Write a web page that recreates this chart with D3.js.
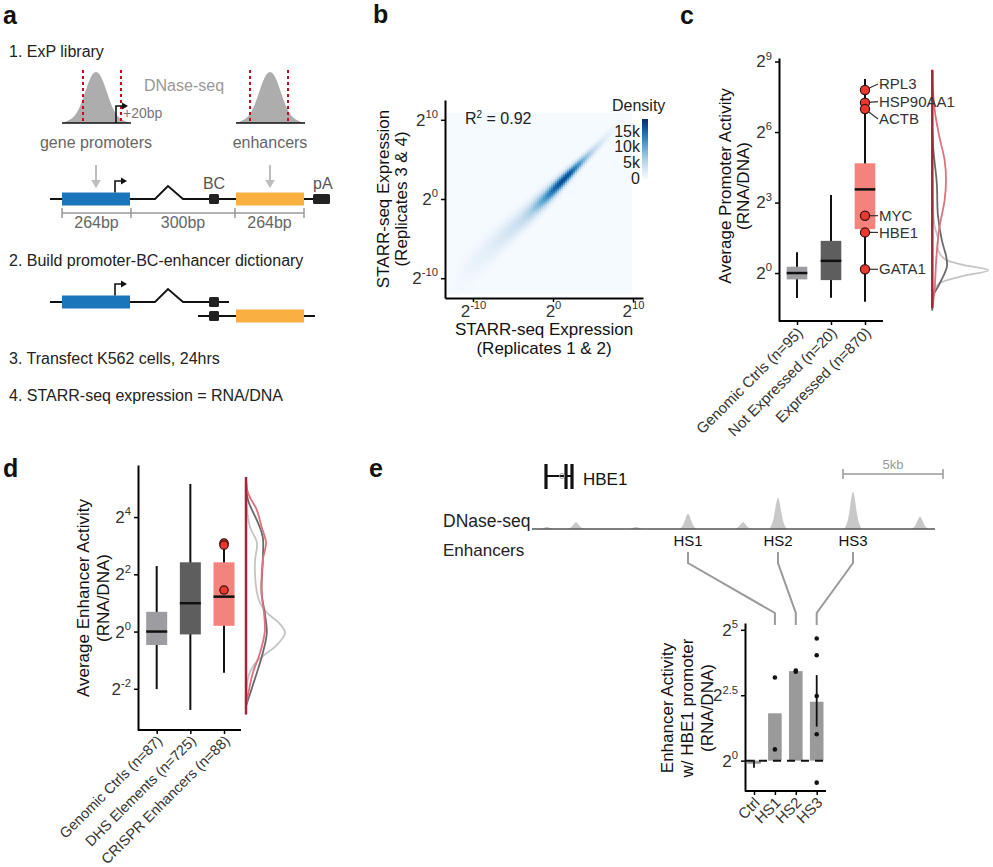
<!DOCTYPE html>
<html><head><meta charset="utf-8">
<script src="https://cdn.jsdelivr.net/npm/d3@7"></script>
<style>body{margin:0;background:#fff} svg{display:block} text{font-family:"Liberation Sans",Arial,Helvetica,sans-serif}</style>
</head><body><svg id="fig" width="993" height="867"></svg>
<script>
// ================= DATA =================
// Panel a (schematic)
const stepTexts = ["1. ExP library","2. Build promoter-BC-enhancer dictionary","3. Transfect K562 cells, 24hrs","4. STARR-seq expression = RNA/DNA"];
const peakProfile = [0,0.04,0.1,0.25,0.55,0.88,1,0.88,0.55,0.25,0.1,0.04,0];
const segLabels = ["264bp","300bp","264bp"];

// Panel b (density of replicate correlation)
const bTicks = [-10, 0, 10];
const ridgeX = [-13,-10,-8,-6,-4,-3,-2,-1,0,1,2,3,4,5,6,7,8,9,10];
const ridgeY = [-11.2,-8.2,-6.3,-4.5,-2.7,-1.8,-0.8,0.1,1.1,2.1,3.1,4.1,5.1,6.1,7.1,8.1,9.1,10.1,11.1];
const ridgeDensity = [0,1200,2000,3000,4500,6000,8500,11500,15000,17500,17000,13000,8500,5200,3000,1600,700,200,0];
const ridgeWidth = [1.6,1.5,1.35,1.2,1.0,0.92,0.85,0.78,0.7,0.62,0.55,0.5,0.47,0.45,0.45,0.45,0.45,0.45,0.45];
const densityLegendTicks = [0,5000,10000,15000];
const densityLegendLabels = ["0","5k","10k","15k"];
const rSquared = "0.92";

// Panel c
const cCats = ["Genomic Ctrls (n=95)","Not Expressed (n=20)","Expressed (n=870)"];
const cMin = [-1.06,-1.05,-1.22];
const cQ1  = [-0.27,-0.30,1.87];
const cMed = [0.0,0.52,3.56];
const cQ3  = [0.27,1.37,4.67];
const cMax = [0.89,3.32,8.26];
const cTicks = [0,3,6,9];
const cGenes = ["RPL3","HSP90AA1","ACTB","MYC","HBE1","GATA1"];
const cGeneVals = [7.79,7.25,6.98,2.44,1.73,0.16];
const cDensCtrlV = [-1.5,-0.85,-0.45,-0.15,0.12,0.35,0.6,1.0,1.5,2.0,3.0,4.0];
const cDensCtrlD = [0,0.01,0.12,0.5,1.0,0.55,0.22,0.1,0.1,0.04,0.01,0];
const cDensNotV = [-1.6,-1.0,-0.5,0.26,0.68,1.4,2.47,3.83,5.2,6.1];
const cDensNotD = [0,0.01,0.12,0.26,0.25,0.17,0.1,0.08,0.02,0];
const cDensExpV = [-1.5,-0.72,0.55,1.83,3.1,3.96,4.8,5.87,6.8,7.8,8.6];
const cDensExpD = [0,0.04,0.07,0.12,0.22,0.245,0.22,0.12,0.05,0.01,0];

// Panel d
const dCats = ["Genomic Ctrls (n=87)","DHS Elements (n=725)","CRISPR Enhancers (n=88)"];
const dMin = [-2.01,-2.74,-1.44];
const dQ1  = [-0.47,-0.10,0.20];
const dMed = [0.0,0.99,1.22];
const dQ3  = [0.69,2.42,2.42];
const dMax = [2.29,5.16,2.92];
const dTicks = [-2,0,2,4];
const dHighlightVals = [3.09,3.02,1.45];
const dDensCtrlV = [-2.6,-1.5,-1.0,-0.5,-0.05,0.3,0.65,1.0,1.35,2.0,2.5,3.1,3.65,4.25,5.0];
const dDensCtrlD = [0,0.075,0.3,0.75,0.975,0.825,0.525,0.35,0.275,0.225,0.225,0.275,0.1,0.025,0];
const dDensDhsV = [-2.6,-1.45,-0.75,-0.05,0.64,1.35,2.5,3.3,3.8,4.6,5.3];
const dDensDhsD = [0,0.27,0.42,0.52,0.47,0.39,0.42,0.42,0.3,0.05,0];
const dDensCrV = [-2.6,-1.45,-0.75,0,0.65,1.35,2.5,3.1,3.65,4.25,4.85,5.4];
const dDensCrD = [0,0.17,0.35,0.47,0.45,0.39,0.42,0.5,0.39,0.27,0.05,0];

// Panel e
const dnaseKb = [0.45,1.9,4.9,7.5,10.25,12.0,15.75,19.1];
const dnaseSignal = [2,7,2,16,7,33,39,13];
const enhancerNames = ["HS1","HS2","HS3"];
const enhancerKb = [7.5,12.0,15.75];
const geneExonKb = [0.4,1.4,1.7];
const eCats = ["Ctrl","HS1","HS2","HS3"];
const eMeans = [-0.12,1.81,3.42,2.25];
const eErrLow = [-0.27,null,null,1.30];
const eErrHigh = [0.03,null,null,3.27];
const ePoints = [[],[3.18,0.43],[3.40,3.44],[4.67,4.03,2.47,1.01,-0.84]];
const eTicks = [0,2.5,5];

// ================= DRAW =================
const FONT = '"Liberation Sans", Arial, Helvetica, sans-serif';
const svg = d3.select("#fig");
const TXT = "#333";

function letter(t,x,y){svg.append("text").attr("x",x).attr("y",y).attr("font-size",25).attr("font-weight","bold").attr("fill","#111").text(t);}
letter("a",3,24); letter("b",373,23); letter("c",680,24); letter("d",3,477); letter("e",369,477);

function styleAxis(g){
  g.attr("font-family",FONT);
  g.select(".domain").attr("stroke","#000").attr("stroke-width",2);
  g.selectAll(".tick line").attr("stroke","#000").attr("stroke-width",1.5);
  g.selectAll(".tick text").attr("fill",TXT);
}
function pow2(g,fs,fmt){
  g.selectAll(".tick text").each(function(d){
    const t=d3.select(this); t.text(null).attr("font-size",fs);
    t.append("tspan").text("2");
    t.append("tspan").attr("dy",-fs*0.45).attr("font-size",fs*0.66).text(fmt?fmt(d):String(d));
  });
}
function rotTitle(lines,xs,cy,fs){
  lines.forEach((l,i)=>svg.append("text").attr("transform",`translate(${xs[i]},${cy}) rotate(-90)`)
    .attr("text-anchor","middle").attr("font-size",fs).attr("fill","#111").text(l));
}
function arrowHead(g,x,y,dir,size,color){
  const s=size;
  let pts;
  if(dir==="right") pts=[[x,y-s*0.6],[x+s,y],[x,y+s*0.6]];
  else pts=[[x-s*0.6,y],[x+s*0.6,y],[x,y+s]];
  g.append("polygon").attr("points",pts.map(p=>p.join(",")).join(" ")).attr("fill",color);
}

// ---------- Panel a ----------
const ga = svg.append("g");
const stepY=[57,266,364,401];
stepTexts.forEach((t,i)=>ga.append("text").attr("x",9).attr("y",stepY[i]).attr("font-size",16).attr("fill","#222").text(t));
const peakCenters=[96,270];
peakCenters.forEach((c,k)=>{
  const px=d3.scaleLinear().domain([0,peakProfile.length-1]).range([c-34,c+34]);
  const py=d3.scaleLinear().domain([0,1]).range([123,70]);
  ga.append("path").datum(peakProfile).attr("d",d3.area().x((d,i)=>px(i)).y0(123).y1(d=>py(d)).curve(d3.curveBasis)).attr("fill","#adadad");
  ga.append("line").attr("x1",c-34).attr("x2",c+35).attr("y1",123).attr("y2",123).attr("stroke","#111").attr("stroke-width",1.5);
  const dash = k===0?[c-13,c+25]:[c-20,c+18];
  dash.forEach(x=>ga.append("line").attr("x1",x).attr("x2",x).attr("y1",70).attr("y2",123).attr("stroke","#d0021b").attr("stroke-width",2).attr("stroke-dasharray","3,3"));
  ga.append("line").attr("x1",c).attr("x2",c).attr("y1",165).attr("y2",181).attr("stroke","#bdbdbd").attr("stroke-width",2);
  arrowHead(ga,c,180,"down",8,"#bdbdbd");
});
// +20bp arrow
ga.append("path").attr("d","M116,123V106H123").attr("fill","none").attr("stroke","#111").attr("stroke-width",1.6);
arrowHead(ga,122,106,"right",6,"#111");
ga.append("text").attr("x",123).attr("y",118).attr("font-size",14).attr("fill","#777").text("+20bp");
ga.append("text").attr("x",144).attr("y",91).attr("font-size",16).attr("fill","#999").text("DNase-seq");
ga.append("text").attr("x",96).attr("y",148).attr("text-anchor","middle").attr("font-size",16).attr("fill","#666").text("gene promoters");
ga.append("text").attr("x",270).attr("y",148).attr("text-anchor","middle").attr("font-size",16).attr("fill","#666").text("enhancers");

function construct(y,full){
  const caret = `M50,${y}H155L168,${y-13}L183,${y}H${full?313:229}`;
  ga.append("path").attr("d",caret).attr("fill","none").attr("stroke","#111").attr("stroke-width",1.8);
  ga.append("rect").attr("x",62).attr("y",y-6.5).attr("width",68).attr("height",13).attr("fill","#1b75bb");
  ga.append("path").attr("d",`M115,${y-6.5}V${y-18}H122`).attr("fill","none").attr("stroke","#111").attr("stroke-width",1.6);
  arrowHead(ga,121,y-18,"right",6,"#111");
  ga.append("rect").attr("x",209).attr("y",y-5).attr("width",10).attr("height",10).attr("rx",1.5).attr("fill","#222");
}
construct(199,true);
ga.append("rect").attr("x",236).attr("y",192.5).attr("width",68).attr("height",13).attr("fill","#f9b040");
ga.append("rect").attr("x",313).attr("y",194).attr("width",17).attr("height",10).attr("rx",1.5).attr("fill","#222");
ga.append("text").attr("x",214).attr("y",189).attr("text-anchor","middle").attr("font-size",16).attr("fill","#555").text("BC");
ga.append("text").attr("x",313).attr("y",189).attr("font-size",16).attr("fill","#555").text("pA");
// dimension line
const dimX=[62,131,235,304];
ga.append("line").attr("x1",62).attr("x2",304).attr("y1",213).attr("y2",213).attr("stroke","#999").attr("stroke-width",1.5);
dimX.forEach(x=>ga.append("line").attr("x1",x).attr("x2",x).attr("y1",208).attr("y2",218).attr("stroke","#999").attr("stroke-width",1.5));
segLabels.forEach((t,i)=>ga.append("text").attr("x",(dimX[i]+dimX[i+1])/2).attr("y",228).attr("text-anchor","middle").attr("font-size",16).attr("fill","#666").text(t));
// construct 2
construct(302,false);
ga.append("line").attr("x1",198).attr("x2",315).attr("y1",316).attr("y2",316).attr("stroke","#111").attr("stroke-width",1.8);
ga.append("rect").attr("x",209).attr("y",311).attr("width",10).attr("height",10).attr("rx",1.5).attr("fill","#222");
ga.append("rect").attr("x",236).attr("y",309.5).attr("width",68).attr("height",13).attr("fill","#f9b040");

// ---------- Panel b ----------
const gb = svg.append("g");
const bx = d3.scaleLinear().domain([-13.5,11.25]).range([445,643]);
const by = d3.scaleLinear().domain([-12.5,12.5]).range([298,100]);
const dColor = d3.scaleSequential(d3.interpolateBlues).domain([0,19000]);
const rY = d3.scaleLinear().domain(ridgeX).range(ridgeY).clamp(true);
const rD = d3.scaleLinear().domain(ridgeX).range(ridgeDensity).clamp(true);
const rW = d3.scaleLinear().domain(ridgeX).range(ridgeWidth).clamp(true);
const rx0=bx(-13.25), rx1=bx(9.9), ry0=by(10.9), ry1=by(-12);
gb.append("rect").attr("x",rx0).attr("y",ry0).attr("width",rx1-rx0).attr("height",ry1-ry0).attr("fill",dColor(150));
const cells=[];
const step=2;
for(let px=rx0; px<rx1; px+=step){
  for(let py=ry0; py<ry1; py+=step){
    const u=bx.invert(px+step/2), v=by.invert(py+step/2);
    const w=rW(u), dd=v-rY(u);
    const dens=rD(u)*Math.exp(-dd*dd/(2*w*w));
    if(dens>200) cells.push({u,v,dens});
  }
}
gb.selectAll("rect.cell").data(cells).join("rect").attr("class","cell")
  .attr("x",d=>bx(d.u)-step/2).attr("y",d=>by(d.v)-step/2).attr("width",step+0.3).attr("height",step+0.3)
  .attr("fill",d=>dColor(d.dens));
const bxAxis = gb.append("g").attr("transform","translate(0,298)")
  .call(d3.axisBottom(bx).tickValues(bTicks).tickSize(4).tickSizeOuter(0).tickPadding(3));
styleAxis(bxAxis); pow2(bxAxis,17);
const byAxis = gb.append("g").attr("transform","translate(445,0)")
  .call(d3.axisLeft(by).tickValues(bTicks).tickSize(4).tickSizeOuter(0).tickPadding(3));
styleAxis(byAxis); pow2(byAxis,17);
const r2 = gb.append("text").attr("x",465).attr("y",124).attr("font-size",16).attr("fill","#222");
r2.append("tspan").text("R");
r2.append("tspan").attr("dy",-6).attr("font-size",10).text("2");
r2.append("tspan").attr("dy",6).text(" = "+rSquared);
rotTitle(["STARR-seq Expression","(Replicates 3 & 4)"],[389,407],199,17);
gb.append("text").attr("x",544).attr("y",335).attr("text-anchor","middle").attr("font-size",17).attr("fill","#111").text("STARR-seq Expression");
gb.append("text").attr("x",544).attr("y",354).attr("text-anchor","middle").attr("font-size",17).attr("fill","#111").text("(Replicates 1 & 2)");
// legend
gb.append("text").attr("x",612).attr("y",111).attr("font-size",16).attr("fill","#222").text("Density");
const legY = d3.scaleLinear().domain([0,19000]).range([179,119]);
const grad = svg.append("defs").append("linearGradient").attr("id","dgrad").attr("x1",0).attr("x2",0).attr("y1",1).attr("y2",0);
d3.range(0,1.01,0.1).forEach(t=>grad.append("stop").attr("offset",t).attr("stop-color",dColor(t*19000)));
gb.append("rect").attr("x",642).attr("y",119).attr("width",6).attr("height",60).attr("fill","url(#dgrad)");
densityLegendTicks.forEach((v,i)=>gb.append("text").attr("x",640).attr("y",legY(v)+5).attr("text-anchor","end").attr("font-size",16).attr("fill","#222").text(densityLegendLabels[i]));

// ---------- Box plot helper ----------
function boxPanel(opt){
  const g=svg.append("g");
  const x=d3.scalePoint().domain(opt.cats).range(opt.xr);
  const y=d3.scaleLinear().domain(opt.yd).range(opt.yr);
  opt.cats.forEach((c,i)=>{
    const cx=x(c), bw=opt.bw;
    g.append("line").attr("x1",cx).attr("x2",cx).attr("y1",y(opt.min[i])).attr("y2",y(opt.max[i])).attr("stroke","#111").attr("stroke-width",2);
    g.append("rect").attr("x",cx-bw/2).attr("y",y(opt.q3[i])).attr("width",bw).attr("height",y(opt.q1[i])-y(opt.q3[i])).attr("fill",opt.colors[i]);
    g.append("line").attr("x1",cx-bw/2).attr("x2",cx+bw/2).attr("y1",y(opt.med[i])).attr("y2",y(opt.med[i])).attr("stroke","#111").attr("stroke-width",2.5);
  });
  const xa=g.append("g").attr("transform",`translate(0,${opt.yr[0]})`)
    .call(d3.axisBottom(x).tickSize(4).tickSizeOuter(0).tickFormat(""));
  xa.select(".domain").attr("d",`M${opt.xr0},0H${opt.xr1}`);
  styleAxis(xa);
  opt.cats.forEach(c=>g.append("text").attr("transform",`translate(${x(c)+3},${opt.yr[0]+opt.lblDy}) rotate(-45)`)
     .attr("text-anchor","end").attr("dy","0.35em").attr("font-size",opt.lblFs).attr("fill",TXT).text(c));
  const ya=g.append("g").attr("transform",`translate(${opt.xr0},0)`)
    .call(d3.axisLeft(y).tickValues(opt.ticks).tickSize(4).tickSizeOuter(0).tickPadding(3));
  styleAxis(ya); pow2(ya,17);
  // density
  const dx=d3.scaleLinear().domain([0,1]).range([opt.densX,opt.densX+opt.densW]);
  opt.dens.forEach(dd=>{
    const pts=dd.v.map((v,i)=>[dd.d[i],v]);
    g.append("path").datum(pts).attr("d",d3.line().x(p=>dx(p[0])).y(p=>y(p[1])).curve(d3.curveCatmullRom))
      .attr("fill","none").attr("stroke",dd.color).attr("stroke-width",1.8);
  });
  g.append("line").attr("x1",opt.densX).attr("x2",opt.densX).attr("y1",y(opt.densRange[0])).attr("y2",y(opt.densRange[1])).attr("stroke","#a3253a").attr("stroke-width",2.5);
  return {g,x,y};
}
const COLS=["#9d9da1","#5e5e5e","#f4837d"];

// ---------- Panel c ----------
const pc = boxPanel({cats:cCats,xr:[797,865],xr0:779,xr1:883,yd:[-2.04,9.15],yr:[321,58],bw:20.6,
  min:cMin,q1:cQ1,med:cMed,q3:cQ3,max:cMax,ticks:cTicks,colors:COLS,lblFs:15,lblDy:9,
  densX:932.3,densW:56,densRange:[-1.5,8.65],
  dens:[{v:cDensCtrlV,d:cDensCtrlD,color:"#c4c4c4"},{v:cDensNotV,d:cDensNotD,color:"#6a6a6a"},{v:cDensExpV,d:cDensExpD,color:"#e0707e"}]});
const cLabelNudge=[-6,-1,10,0,0,0];
cGenes.forEach((gname,i)=>{
  const px=pc.x(cCats[2]), py=pc.y(cGeneVals[i]);
  const ly=py+cLabelNudge[i];
  pc.g.append("line").attr("x1",px).attr("x2",878).attr("y1",py).attr("y2",ly).attr("stroke","#333").attr("stroke-width",1.2);
  pc.g.append("circle").attr("cx",px).attr("cy",py).attr("r",4.6).attr("fill","#ea3a2f").attr("stroke","#3a1010").attr("stroke-width",1.2);
  pc.g.append("text").attr("x",879).attr("y",ly+5.2).attr("font-size",15).attr("fill",TXT).text(gname);
});
rotTitle(["Average Promoter Activity","(RNA/DNA)"],[731,749],186,17);

// ---------- Panel d ----------
const pd = boxPanel({cats:dCats,xr:[156.7,224],xr0:138,xr1:241,yd:[-3.44,5.82],yr:[730,465],bw:21,
  min:dMin,q1:dQ1,med:dMed,q3:dQ3,max:dMax,ticks:dTicks,colors:COLS,lblFs:14.5,lblDy:8,
  densX:246,densW:40,densRange:[-2.9,5.4],
  dens:[{v:dDensCtrlV,d:dDensCtrlD,color:"#c4c4c4"},{v:dDensDhsV,d:dDensDhsD,color:"#6a6a6a"},{v:dDensCrV,d:dDensCrD,color:"#e0707e"}]});
dHighlightVals.forEach(v=>pd.g.append("circle").attr("cx",pd.x(dCats[2])).attr("cy",pd.y(v)).attr("r",4.2).attr("fill","#ea3a2f").attr("stroke","#3a1010").attr("stroke-width",1.2));
rotTitle(["Average Enhancer Activity","(RNA/DNA)"],[89,109],598,17);

// ---------- Panel e ----------
const ge = svg.append("g");
const kx = d3.scaleLinear().domain([0,20]).range([538,938]);
const sy = d3.scaleLinear().domain([0,40]).range([529,489]);
// gene glyph
ge.append("line").attr("x1",kx(geneExonKb[0])).attr("x2",kx(geneExonKb[2])).attr("y1",476).attr("y2",476).attr("stroke","#111").attr("stroke-width",2);
geneExonKb.forEach((k,i)=>ge.append("rect").attr("x",kx(k)-1.6).attr("y",464).attr("width",3.2).attr("height",25).attr("fill","#111"));
ge.append("circle").attr("cx",kx(1.2)).attr("cy",476).attr("r",2.5).attr("fill","none").attr("stroke","#999").attr("stroke-width",1);
ge.append("text").attr("x",583).attr("y",485).attr("font-size",17).attr("fill","#111").text("HBE1");
// scale bar
ge.append("path").attr("d",`M${kx(15.25)},469V479M${kx(15.25)},474H${kx(20.25)}M${kx(20.25)},469V479`).attr("stroke","#999").attr("stroke-width",1.5).attr("fill","none");
ge.append("text").attr("x",kx(17.75)).attr("y",469).attr("text-anchor","middle").attr("font-size",13).attr("fill","#999").text("5kb");
// DNase peaks
const dnShape=[0,0.05,0.15,0.3,0.55,0.85,1,0.85,0.55,0.3,0.15,0.05,0];
dnaseKb.forEach((k,i)=>{
  const ox=d3.scaleLinear().domain([0,dnShape.length-1]).range([kx(k-0.45),kx(k+0.45)]);
  ge.append("path").datum(dnShape).attr("d",d3.area().x((d,j)=>ox(j)).y0(sy(0)).y1(d=>sy(d*dnaseSignal[i])).curve(d3.curveBasis)).attr("fill","#c8c8c8");
});
ge.append("line").attr("x1",kx(-0.3)).attr("x2",kx(19.85)).attr("y1",529).attr("y2",529).attr("stroke","#555").attr("stroke-width",1.5);
ge.append("text").attr("x",443).attr("y",527).attr("font-size",17.5).attr("fill","#222").text("DNase-seq");
ge.append("text").attr("x",443).attr("y",556).attr("font-size",17).attr("fill","#222").text("Enhancers");
// bar chart
const ex = d3.scalePoint().domain(eCats).range([754,816.7]);
const ey = d3.scaleLinear().domain([-1.16,5.26]).range([791,623]);
enhancerNames.forEach((n,i)=>{
  const hx=kx(enhancerKb[i]);
  ge.append("text").attr("x",hx).attr("y",546).attr("text-anchor","middle").attr("font-size",15).attr("fill","#111").text(n);
  ge.append("path").attr("d",`M${hx},552V563L${ex(n)},613V625`).attr("fill","none").attr("stroke","#9a9a9a").attr("stroke-width",2);
});
eCats.forEach((c,i)=>{
  const y0=ey(0), y1=ey(eMeans[i]);
  ge.append("rect").attr("x",ex(c)-6.8).attr("y",Math.min(y0,y1)).attr("width",13.6).attr("height",Math.abs(y1-y0)).attr("fill","#9a9a9a");
});
ge.append("line").attr("x1",745).attr("x2",826).attr("y1",ey(0)).attr("y2",ey(0)).attr("stroke","#111").attr("stroke-width",2).attr("stroke-dasharray","8,6");
eCats.forEach((c,i)=>{
  if(eErrLow[i]!==null) ge.append("line").attr("x1",ex(c)).attr("x2",ex(c)).attr("y1",ey(eErrLow[i])).attr("y2",ey(eErrHigh[i])).attr("stroke","#111").attr("stroke-width",1.8);
  ePoints[i].forEach(v=>ge.append("circle").attr("cx",ex(c)).attr("cy",ey(v)).attr("r",2.3).attr("fill","#111"));
});
const exa=ge.append("g").attr("transform","translate(0,791)").call(d3.axisBottom(ex).tickSize(4).tickSizeOuter(0).tickFormat(""));
exa.select(".domain").attr("d","M745,0H826");
styleAxis(exa);
eCats.forEach(c=>ge.append("text").attr("transform",`translate(${ex(c)+3},${800}) rotate(-45)`).attr("text-anchor","end").attr("dy","0.35em").attr("font-size",15).attr("fill",TXT).text(c));
const eya=ge.append("g").attr("transform","translate(745,0)").call(d3.axisLeft(ey).tickValues(eTicks).tickSize(4).tickSizeOuter(0).tickPadding(3));
styleAxis(eya); pow2(eya,17);
rotTitle(["Enhancer Activity","w/ HBE1 promoter","(RNA/DNA)"],[673,693,713],708,17);
</script></body></html>
